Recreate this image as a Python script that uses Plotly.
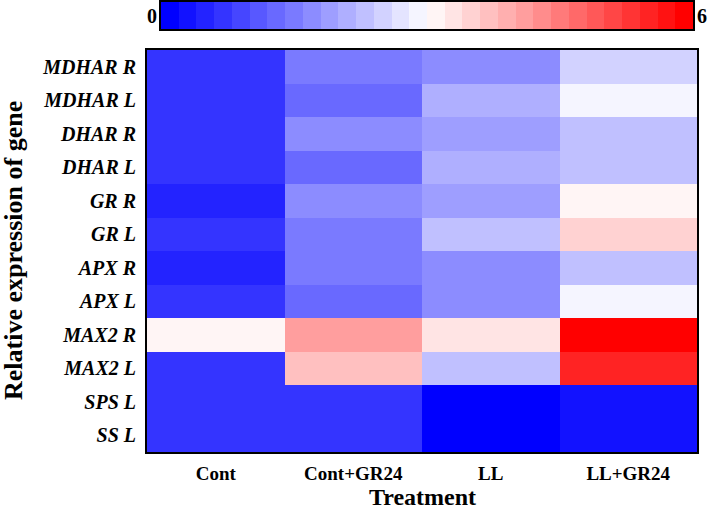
import plotly.graph_objects as go

genes = ["MDHAR R", "MDHAR L", "DHAR R", "DHAR L", "GR R", "GR L",
         "APX R", "APX L", "MAX2 R", "MAX2 L", "SPS L", "SS L"]
treatments = ["Cont", "Cont+GR24", "LL", "LL+GR24"]

cont      = [0.7, 0.7, 0.7, 0.7, 0.5, 0.7, 0.5, 0.7, 3.1, 0.7, 0.7, 0.7]
cont_gr24 = [1.5, 1.3, 1.7, 1.3, 1.7, 1.5, 1.5, 1.3, 4.1, 3.7, 0.7, 0.7]
ll        = [1.7, 2.1, 1.9, 2.1, 1.9, 2.3, 1.7, 1.7, 3.3, 2.3, 0.1, 0.1]
ll_gr24   = [2.5, 2.9, 2.3, 2.3, 3.1, 3.5, 2.3, 2.9, 5.9, 5.5, 0.3, 0.3]

scale_ticks = ["0", "6"]
zmin, zmax = 0, 6
n_steps = 30

# discrete blue-white-red colorscale
def step_color(k):
    half = n_steps // 2
    if k < half:
        c = round(k * 245 / (half - 1))
        return f"rgb({c},{c},255)"
    j = k - half
    c = round(245 - j * 245 / (half - 1))
    return f"rgb(255,{c},{c})"

colorscale = []
for k in range(n_steps):
    col = step_color(k)
    colorscale.append([k / n_steps, col])
    colorscale.append([(k + 1) / n_steps, col])

z = [[cont[i], cont_gr24[i], ll[i], ll_gr24[i]] for i in range(len(genes))]

# colour key: one cell per step, centred values
step_w = (zmax - zmin) / n_steps
key_x = [zmin + (k + 0.5) * step_w for k in range(n_steps)]

font_family = "Liberation Serif, Times New Roman, serif"

W, H = 708, 516
ml, mr, mt, mb = 147, 11, 1, 64
pw, ph = W - ml - mr, H - mt - mb

def fx(px):
    return (px - ml) / pw

def fy(py):
    return (H - mb - py) / ph

fig = go.Figure()
fig.add_trace(go.Heatmap(
    z=z, x=treatments, y=genes,
    zmin=zmin, zmax=zmax, colorscale=colorscale,
    showscale=False, xaxis="x", yaxis="y",
))
fig.add_trace(go.Heatmap(
    z=[key_x], x=key_x, y=[0],
    zmin=zmin, zmax=zmax, colorscale=colorscale,
    showscale=False, xaxis="x2", yaxis="y2", hoverinfo="skip",
))

def label(text, px, py, size, angle=0):
    fig.add_annotation(text=text, xref="paper", yref="paper",
                       x=fx(px), y=fy(py), xanchor="center", yanchor="middle",
                       showarrow=False, textangle=angle,
                       font=dict(family=font_family, size=size, color="black"))

label("<b>" + scale_ticks[0] + "</b>", 152, 16, 20)
label("<b>" + scale_ticks[1] + "</b>", 702, 16, 20)
label("<b>Treatment</b>", 422, 497, 24)
label("<b>Relative expression of gene</b>", 13, 251, 26, -90)

fig.update_layout(
    width=W, height=H,
    margin=dict(l=ml, r=mr, t=mt, b=mb, autoexpand=False),
    paper_bgcolor="white", plot_bgcolor="white",
    font=dict(family=font_family, color="black"),
    xaxis=dict(
        domain=[0, 1],
        tickfont=dict(size=19, family=font_family, weight="bold"),
        showline=True, mirror=True, linecolor="black", linewidth=2,
        ticks="", ticklabelstandoff=3, showgrid=False, zeroline=False,
    ),
    yaxis=dict(
        domain=[0, fy(50)],
        tickfont=dict(size=20, family=font_family, weight="bold", style="italic"),
        autorange="reversed",
        showline=True, mirror=True, linecolor="black", linewidth=2,
        ticks="", ticklabelstandoff=5, showgrid=False, zeroline=False,
    ),
    xaxis2=dict(
        domain=[fx(161), fx(693)], anchor="y2",
        range=[zmin, zmax],
        showticklabels=False, ticks="", showgrid=False, zeroline=False,
        showline=True, mirror=True, linecolor="black", linewidth=2,
    ),
    yaxis2=dict(
        domain=[fy(29), fy(2)], anchor="x2",
        range=[-0.5, 0.5],
        showticklabels=False, ticks="", showgrid=False, zeroline=False,
        showline=True, mirror=True, linecolor="black", linewidth=2,
    ),
)

fig.write_html("out.html", config={"displayModeBar": False},
               post_script="document.body.style.margin='0px';")
